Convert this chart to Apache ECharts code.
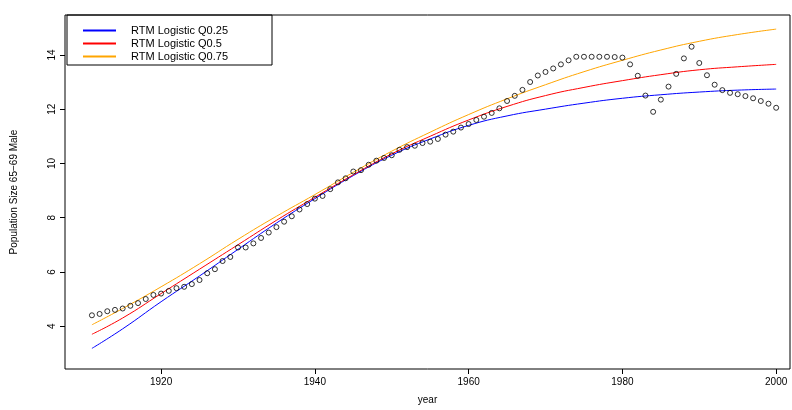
<!DOCTYPE html>
<html>
<head>
<meta charset="utf-8">
<script src="https://cdn.jsdelivr.net/npm/echarts@6/dist/echarts.min.js"></script>
<style>html,body{margin:0;padding:0;background:#fff}#chart{width:792px;height:410px}</style>
</head>
<body>
<div id="chart"></div>
<script>
// observed population, 1911-2000
const startYear = 1911;
const observed = [
  4.4, 4.45, 4.55, 4.6, 4.65, 4.75, 4.85, 5.0, 5.15, 5.2,
  5.3, 5.4, 5.45, 5.55, 5.7, 5.95, 6.1, 6.4, 6.55, 6.9,
  6.9, 7.05, 7.25, 7.45, 7.65, 7.85, 8.05, 8.3, 8.5, 8.7,
  8.8, 9.05, 9.3, 9.45, 9.7, 9.75, 9.95, 10.1, 10.2, 10.3,
  10.5, 10.6, 10.65, 10.75, 10.8, 10.9, 11.06, 11.17, 11.32, 11.45,
  11.6, 11.72, 11.86, 12.03, 12.3, 12.49, 12.71, 13.0, 13.24, 13.37,
  13.5, 13.65, 13.8, 13.93, 13.93, 13.93, 13.93, 13.93, 13.92, 13.9,
  13.65, 13.23, 12.5, 11.9, 12.35, 12.83, 13.3, 13.87, 14.3, 13.7,
  13.25, 12.9, 12.7, 12.6, 12.55, 12.48, 12.4, 12.3, 12.2, 12.05
];

const curveYears = [1911, 1915, 1920, 1925, 1930, 1935, 1940, 1945, 1950, 1955, 1960, 1965, 1970, 1975, 1980, 1985, 1990, 1995, 2000];
const q25 = [3.18, 3.9, 4.9, 5.85, 6.83, 7.8, 8.7, 9.55, 10.3, 10.9, 11.4, 11.75, 12.0, 12.22, 12.4, 12.53, 12.63, 12.7, 12.74];
const q50 = [3.7, 4.3, 5.2, 6.1, 7.0, 7.9, 8.75, 9.58, 10.35, 11.0, 11.6, 12.1, 12.5, 12.8, 13.05, 13.27, 13.45, 13.56, 13.65];
const q75 = [4.05, 4.65, 5.45, 6.3, 7.2, 8.05, 8.85, 9.67, 10.45, 11.15, 11.8, 12.38, 12.9, 13.38, 13.8, 14.18, 14.5, 14.75, 14.95];

const names = ['RTM Logistic Q0.25', 'RTM Logistic Q0.5', 'RTM Logistic Q0.75'];
const colors = ['#0000ff', '#ff0000', '#ffa500'];
const xTicks = [1920, 1940, 1960, 1980, 2000];
const yTicks = [4, 6, 8, 10, 12, 14];

const pts = observed.map((v, i) => [startYear + i, v]);
const pair = arr => curveYears.map((y, i) => [y, arr[i]]);

const chart = echarts.init(document.getElementById('chart'));
const font = 'Liberation Sans, Arial, sans-serif';

const line = (name, data, color) => ({
  name, type: 'line', data, smooth: true, symbol: 'none',
  itemStyle: { color }, lineStyle: { width: 1, color }
});

chart.setOption({
  animation: false,
  textStyle: { fontFamily: font },
  grid: { left: 65, right: 2, top: 15, bottom: 40, show: true, borderColor: '#000', borderWidth: 1 },
  legend: {
    orient: 'vertical', left: 78, top: 20, itemGap: 2, itemWidth: 33, itemHeight: 11,
    icon: 'path://M0,4.5L33,4.5L33,6.5L0,6.5Z',
    textStyle: { fontSize: 11, color: '#000', fontFamily: font, padding: [0, 0, 0, 10] },
    data: names.map((n, i) => ({ name: n, itemStyle: { color: colors[i], borderWidth: 0 }, lineStyle: { color: colors[i], width: 0 } }))
  },
  graphic: [{ type: 'rect', shape: { x: 67, y: 15, width: 205, height: 50 }, style: { fill: 'none', stroke: '#000', lineWidth: 1 } }],
  xAxis: {
    type: 'value', min: 1907.5, max: 2001.8,
    name: 'year', nameLocation: 'middle', nameGap: 26,
    nameTextStyle: { fontSize: 10, color: '#000' },
    axisLine: { show: false }, splitLine: { show: false },
    axisLabel: { fontSize: 10, color: '#000', customValues: xTicks, formatter: v => String(v) },
    axisTick: { customValues: xTicks, length: 5, lineStyle: { color: '#000' } }
  },
  yAxis: {
    type: 'value', min: 2.42, max: 15.47,
    name: 'Population Size 65\u221269 Male', nameLocation: 'middle', nameGap: 46,
    nameTextStyle: { fontSize: 10, color: '#000' },
    axisLine: { show: false }, splitLine: { show: false },
    axisLabel: { fontSize: 10, color: '#000', rotate: 90, customValues: yTicks },
    axisTick: { customValues: yTicks, length: 5, lineStyle: { color: '#000' } }
  },
  series: [
    line(names[0], pair(q25), colors[0]),
    line(names[1], pair(q50), colors[1]),
    line(names[2], pair(q75), colors[2]),
    { name: 'observed', type: 'scatter', data: pts, symbol: 'circle', symbolSize: 5, z: 5,
      itemStyle: { color: 'rgba(0,0,0,0)', borderColor: '#000', borderWidth: 1 } }
  ]
});
</script>
</body>
</html>
